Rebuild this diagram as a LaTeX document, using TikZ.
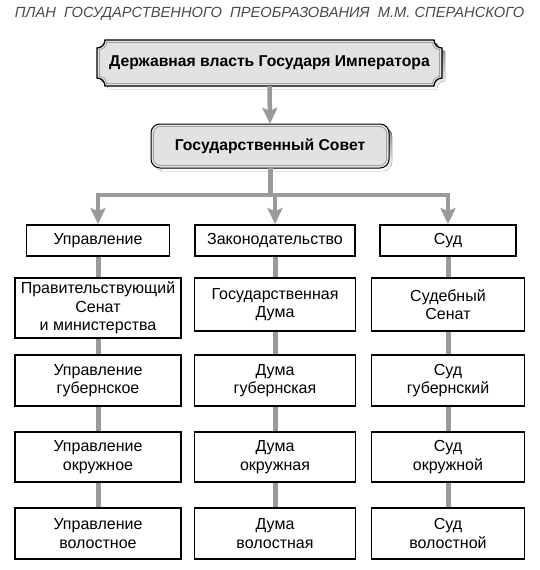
\documentclass[tikz,border=0pt]{standalone}
\usepackage{fontspec}
\setmainfont{Liberation Sans}
\usetikzlibrary{arrows.meta}
\definecolor{conn}{HTML}{9A9A9A}
\definecolor{titlegray}{HTML}{4A4A4A}
\definecolor{boxfill}{HTML}{E2E2E2}
\definecolor{shade}{HTML}{808080}
\tikzset{
  ticket/.style n args={5}{insert path={
    (#1+#5,#2) -- (#3-#5,#2)
    .. controls (#3-#5,#2+0.55*#5) and (#3-0.55*#5,#2+#5) .. (#3,#2+#5)
    -- (#3,#4-#5)
    .. controls (#3-0.55*#5,#4-#5) and (#3-#5,#4-0.55*#5) .. (#3-#5,#4)
    -- (#1+#5,#4)
    .. controls (#1+#5,#4-0.55*#5) and (#1+0.55*#5,#4-#5) .. (#1,#4-#5)
    -- (#1,#2+#5)
    .. controls (#1+0.55*#5,#2+#5) and (#1+#5,#2+0.55*#5) .. (#1+#5,#2)
    -- cycle}}
}
\begin{document}
\begin{tikzpicture}[x=1pt,y=-1pt,
  box/.style={draw=black, line width=1.8pt, fill=white, align=center,
    font=\fontsize{16}{18.5}\selectfont, inner sep=0pt},
  link/.style={draw=conn, line width=5pt},
  arr/.style={draw=conn, line width=4.5pt, line join=miter,
    -{Stealth[length=16pt,width=15pt,inset=3pt]}},
  head/.style={align=center, font=\bfseries\fontsize{15.7}{18}\selectfont, inner sep=0pt}
]
\useasboundingbox (0,0) rectangle (539,570);

% title
\node (title) at (269.5,13.5) {\fontsize{14.7}{16}\selectfont\itshape\color{titlegray}%
ПЛАН\ \ ГОСУДАРСТВЕННОГО\ \ ПРЕОБРАЗОВАНИЯ\ \ М.М.\ СПЕРАНСКОГО};

% top box (ticket shape)
\fill[shade] [ticket={100}{43}{445}{89}{8}];
\draw[fill=boxfill, line width=1.3pt] [ticket={97}{40}{442}{86}{8}];
\draw[draw=shade, line width=0.5pt] [ticket={99.5}{42.5}{439.5}{83.5}{7}];
\node[head, minimum width=345pt, minimum height=46pt] (top) at (269.5,63)
  {Державная власть Государя Императора};

% council box
\fill[shade, rounded corners=9pt] (154,127) rectangle (392,171);
\draw[fill=boxfill, line width=1pt, rounded corners=9pt] (151,124) rectangle (389,168);
\draw[draw=shade, line width=0.5pt, rounded corners=7pt] (153.5,126.5) rectangle (386.5,165.5);
\node[head, minimum width=238pt, minimum height=44pt] (council) at (270,146)
  {Государственный Совет};

% row 1
\node[box, minimum width=143pt, minimum height=31pt] (u1) at (98,240.5) {Управление};
\node[box, minimum width=160pt, minimum height=31pt] (z1) at (275,240.5) {Законодательство};
\node[box, minimum width=136pt, minimum height=31pt] (s1) at (448,240.5) {Суд};
% row 2
\node[box, minimum width=166pt, minimum height=60pt] (u2) at (98,308) {Правительствующий\\Сенат\\и министерства};
\node[box, minimum width=161pt, minimum height=53pt] (z2) at (275,304.5) {Государственная\\Дума};
\node[box, minimum width=153pt, minimum height=53pt] (s2) at (448,304.5) {Судебный\\Сенат};
% row 3
\node[box, minimum width=166pt, minimum height=51pt] (u3) at (98,380.5) {Управление\\губернское};
\node[box, minimum width=161pt, minimum height=51pt] (z3) at (275,380.5) {Дума\\губернская};
\node[box, minimum width=153pt, minimum height=51pt] (s3) at (448,380.5) {Суд\\губернский};
% row 4
\node[box, minimum width=166pt, minimum height=50pt] (u4) at (98,457) {Управление\\окружное};
\node[box, minimum width=161pt, minimum height=50pt] (z4) at (275,457) {Дума\\окружная};
\node[box, minimum width=153pt, minimum height=50pt] (s4) at (448,457) {Суд\\окружной};
% row 5
\node[box, minimum width=166pt, minimum height=51pt] (u5) at (98,533.5) {Управление\\волостное};
\node[box, minimum width=161pt, minimum height=51pt] (z5) at (275,533.5) {Дума\\волостная};
\node[box, minimum width=153pt, minimum height=51pt] (s5) at (448,533.5) {Суд\\волостной};

% connectors
\coordinate (hl) at (98,195);
\coordinate (hr) at (448,195);
\draw[arr] (top.south) -- (council.north);
\draw[link] (council.south) -- (council.south |- hl);
\draw[arr] (council.south |- hl) -- (hl) -- (u1.north);
\draw[arr] (council.south |- hl) -- (hr) -- (s1.north);
\draw[arr] (z1.north |- hl) -- (z1.north);
\foreach \c in {u,z,s}{
  \draw[link] (\c1.south) -- (\c2.north);
  \draw[link] (\c2.south) -- (\c3.north);
  \draw[link] (\c3.south) -- (\c4.north);
  \draw[link] (\c4.south) -- (\c5.north);
}
\end{tikzpicture}
\end{document}
